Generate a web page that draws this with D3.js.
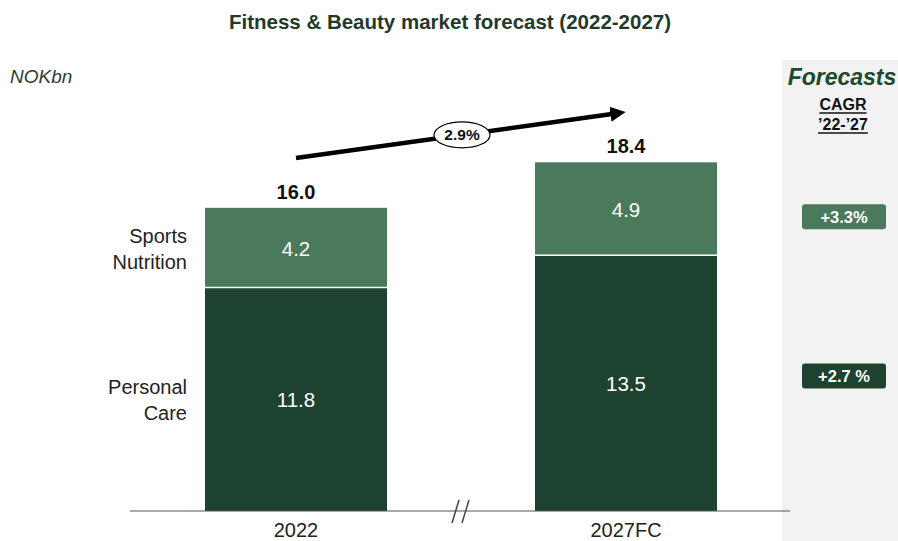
<!DOCTYPE html>
<html>
<head>
<meta charset="utf-8">
<script src="https://cdn.jsdelivr.net/npm/d3@7"></script>
<style>
  body { margin: 0; background: #fff; }
  svg { display: block; font-family: "Liberation Sans", Arial, sans-serif; }
</style>
</head>
<body>
<svg id="chart" width="898" height="541"></svg>
<script>
// Market size, NOK bn
const years = ["2022", "2027FC"];
const personalCare = [11.8, 13.5];
const sportsNutrition = [4.2, 4.9];
const totals = [16.0, 18.4];
const segmentNames = [["Sports", "Nutrition"], ["Personal", "Care"]];
const cagrLabels = ["+3.3%", "+2.7 %"];
const totalCagr = "2.9%";

const dark = "#1e4230";
const light = "#4a7a5b";

const svg = d3.select("#chart");

const baseY = 511;
const x = d3.scaleBand().domain(years).range([205, 717]).paddingInner(0.4485).paddingOuter(0);
const y = d3.scaleLinear().domain([0, 20]).range([baseY, baseY - 20 * 18.95]);

// forecast side panel
svg.append("rect").attr("x", 782).attr("y", 60).attr("width", 116).attr("height", 481).attr("fill", "#f2f2f2");

// title
svg.append("text").attr("x", 450).attr("y", 29).attr("text-anchor", "middle")
  .attr("font-size", 20.5).attr("font-weight", "bold").attr("fill", "#1f3a2a")
  .text("Fitness & Beauty market forecast (2022-2027)");

svg.append("text").attr("x", 10).attr("y", 83).attr("font-size", 19).attr("font-style", "italic")
  .attr("fill", "#2e3d34").text("NOKbn");

// stacked bars
const stack = years.map((yr, i) => ({ yr, pc: personalCare[i], sn: sportsNutrition[i], total: totals[i] }));
const g = svg.append("g");
g.selectAll("rect.pc").data(stack).join("rect")
  .attr("x", d => x(d.yr)).attr("width", x.bandwidth())
  .attr("y", d => y(d.pc)).attr("height", d => y(0) - y(d.pc)).attr("fill", dark);
g.selectAll("rect.sn").data(stack).join("rect")
  .attr("x", d => x(d.yr)).attr("width", x.bandwidth())
  .attr("y", d => y(d.pc + d.sn)).attr("height", d => y(d.pc) - y(d.pc + d.sn)).attr("fill", light);
// thin separator between segments
g.selectAll("line.sep").data(stack).join("line")
  .attr("x1", d => x(d.yr)).attr("x2", d => x(d.yr) + x.bandwidth())
  .attr("y1", d => y(d.pc)).attr("y2", d => y(d.pc)).attr("stroke", "#fff").attr("stroke-width", 1.5);

// segment values
g.selectAll("text.pcv").data(stack).join("text")
  .attr("x", d => x(d.yr) + x.bandwidth() / 2).attr("y", d => y(d.pc / 2) + 8)
  .attr("text-anchor", "middle").attr("font-size", 20.5).attr("fill", "#fff")
  .text(d => d.pc.toFixed(1));
g.selectAll("text.snv").data(stack).join("text")
  .attr("x", d => x(d.yr) + x.bandwidth() / 2).attr("y", d => y(d.pc + d.sn / 2) + 8)
  .attr("text-anchor", "middle").attr("font-size", 20.5).attr("fill", "#fff")
  .text(d => d.sn.toFixed(1));
// totals
g.selectAll("text.tot").data(stack).join("text")
  .attr("x", d => x(d.yr) + x.bandwidth() / 2).attr("y", d => y(d.total) - 9)
  .attr("text-anchor", "middle").attr("font-size", 20).attr("font-weight", "bold").attr("fill", "#111")
  .text(d => d.total.toFixed(1));

// segment names on the left
const first = stack[0];
const nameY = [y(first.pc + first.sn / 2), y(first.pc / 2)];
segmentNames.forEach((lines, i) => {
  const t = svg.append("text").attr("text-anchor", "end")
    .attr("font-size", 20).attr("fill", "#222");
  lines.forEach((ln, j) => {
    t.append("tspan").attr("x", 187).attr("y", nameY[i] - 5 + j * 26).text(ln);
  });
});

// baseline axis with break marks
svg.append("line").attr("x1", 130).attr("x2", 790).attr("y1", baseY).attr("y2", baseY)
  .attr("stroke", "#555").attr("stroke-width", 1.2);
const brk = (x(years[0]) + x.bandwidth() + x(years[1])) / 2;
[-5, 5].forEach(dx => {
  svg.append("line").attr("x1", brk + dx - 4).attr("y1", baseY + 12).attr("x2", brk + dx + 3).attr("y2", baseY - 11)
    .attr("stroke", "#444").attr("stroke-width", 1.5);
});

// category labels
svg.selectAll("text.cat").data(years).join("text")
  .attr("x", d => x(d) + x.bandwidth() / 2).attr("y", baseY + 26)
  .attr("text-anchor", "middle").attr("font-size", 20).attr("fill", "#222").text(d => d);

// growth arrow
svg.append("defs").append("marker").attr("id", "ah").attr("viewBox", "0 0 10 10")
  .attr("refX", 1).attr("refY", 5).attr("markerWidth", 3.4).attr("markerHeight", 3.6)
  .attr("orient", "auto").append("path").attr("d", "M0,0 L10,5 L0,10 Z").attr("fill", "#000");
const ax1 = x(years[0]) + x.bandwidth() / 2, ay1 = 158, ax2 = 612, ay2 = 114;
svg.append("line").attr("x1", ax1).attr("y1", ay1).attr("x2", ax2).attr("y2", ay2)
  .attr("stroke", "#000").attr("stroke-width", 4.5).attr("marker-end", "url(#ah)");
const ex = 462, ey = ay1 + (ay2 - ay1) * (ex - ax1) / (ax2 - ax1);
svg.append("ellipse").attr("cx", ex).attr("cy", ey).attr("rx", 28).attr("ry", 13)
  .attr("fill", "#fff").attr("stroke", "#000").attr("stroke-width", 1.2);
svg.append("text").attr("x", ex).attr("y", ey + 5.5).attr("text-anchor", "middle")
  .attr("font-size", 15.5).attr("font-weight", "bold").attr("fill", "#111").text(totalCagr);

// forecasts panel text
svg.append("text").attr("x", 842).attr("y", 85).attr("text-anchor", "middle")
  .attr("font-size", 23).attr("font-weight", "bold").attr("font-style", "italic").attr("fill", "#1d4a2d")
  .text("Forecasts");
["CAGR", "\u201922-\u201927"].forEach((s, i) => {
  const yy = 110 + i * 20;
  const t = svg.append("text").attr("x", 843).attr("y", yy).attr("text-anchor", "middle")
    .attr("font-size", 16).attr("font-weight", "bold").attr("fill", "#111").text(s);
  const w = t.node().getComputedTextLength();
  svg.append("line").attr("x1", 843 - w / 2).attr("x2", 843 + w / 2).attr("y1", yy + 3).attr("y2", yy + 3)
    .attr("stroke", "#111").attr("stroke-width", 1.3);
});

// CAGR badges aligned with segments of the forecast bar
const fc = stack[1];
const badgeY = [y(fc.pc + fc.sn / 2) + 8, y(fc.pc / 2) - 7];
const badgeCol = [light, dark];
cagrLabels.forEach((lab, i) => {
  svg.append("rect").attr("x", 802).attr("y", badgeY[i] - 12.5).attr("width", 84).attr("height", 25)
    .attr("rx", 3).attr("fill", badgeCol[i]);
  svg.append("text").attr("x", 844).attr("y", badgeY[i] + 6).attr("text-anchor", "middle")
    .attr("font-size", 16.5).attr("font-weight", "bold").attr("fill", "#fff").text(lab);
});
</script>
</body>
</html>
